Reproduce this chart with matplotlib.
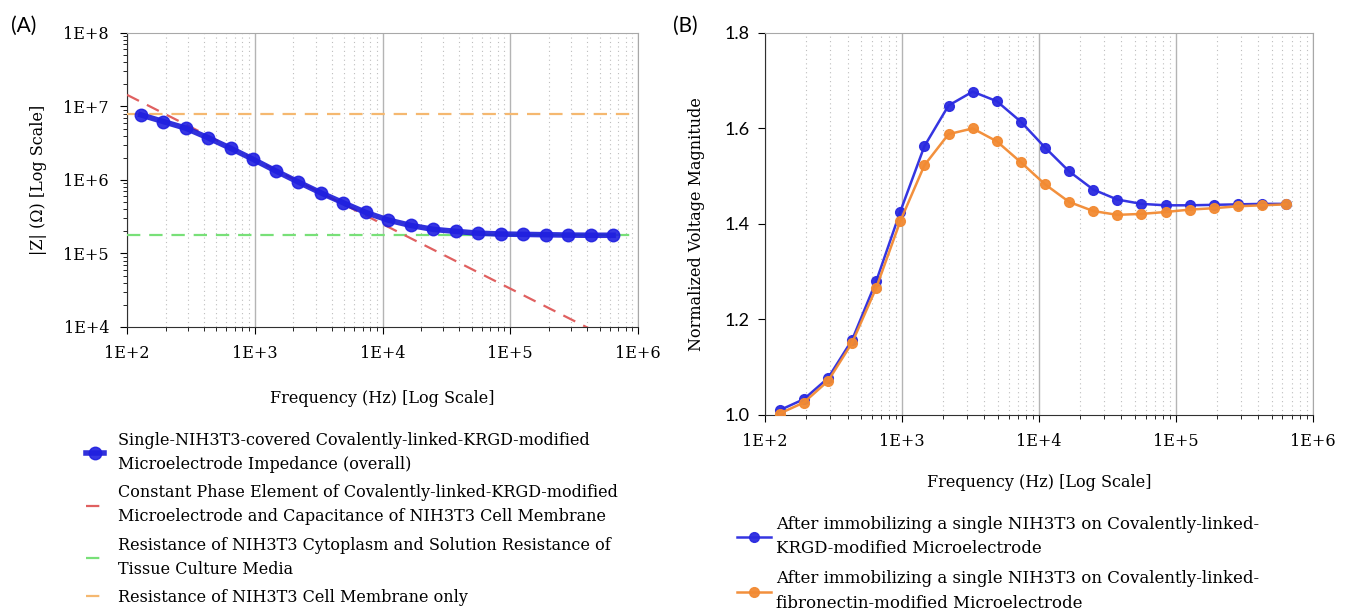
import matplotlib
matplotlib.use("Agg")
import matplotlib.pyplot as plt
from matplotlib.ticker import LogLocator, FixedLocator, NullFormatter
import numpy as np

plt.rcParams['font.family'] = ['DejaVu Serif']

# frequencies of the measured points (Hz)
freq = [128, 192, 288, 432, 648, 972, 1458, 2187, 3281, 4921, 7381, 11072,
        16608, 24912, 37368, 56052, 84078, 126117, 189176, 283764, 425646, 638469]

# (A) impedance magnitude, ohm
z_overall = [7.7e6, 6.24e6, 5.07e6, 3.74e6, 2.70e6, 1.91e6, 1.33e6, 9.4e5, 6.7e5,
             4.9e5, 3.62e5, 2.85e5, 2.41e5, 2.13e5, 2.0e5, 1.89e5, 1.84e5, 1.82e5,
             1.80e5, 1.78e5, 1.77e5, 1.77e5]
cpe_freq = [100, 1e6]
cpe_z = [1.44e7, 4.4e3]
r_cytoplasm = 1.76e5
r_membrane = 7.85e6

# (B) normalized voltage magnitude
v_krgd = [1.010, 1.033, 1.077, 1.157, 1.280, 1.426, 1.563, 1.648, 1.677, 1.657, 1.614,
          1.560, 1.510, 1.472, 1.451, 1.442, 1.439, 1.439, 1.440, 1.441, 1.442, 1.442]
v_fibro = [1.003, 1.026, 1.071, 1.151, 1.266, 1.406, 1.523, 1.588, 1.600, 1.573, 1.529,
           1.483, 1.446, 1.427, 1.419, 1.421, 1.425, 1.430, 1.433, 1.437, 1.439, 1.441]

x_ticks = [1e2, 1e3, 1e4, 1e5, 1e6]
x_ticklabels = ['1E+2', '1E+3', '1E+4', '1E+5', '1E+6']
ya_ticks = [1e4, 1e5, 1e6, 1e7, 1e8]
ya_ticklabels = ['1E+4', '1E+5', '1E+6', '1E+7', '1E+8']
yb_ticks = [1.0, 1.2, 1.4, 1.6, 1.8]
yb_ticklabels = ['1.0', '1.2', '1.4', '1.6', '1.8']

lab_overall = 'Single-NIH3T3-covered Covalently-linked-KRGD-modified\nMicroelectrode Impedance (overall)'
lab_cpe = 'Constant Phase Element of Covalently-linked-KRGD-modified\nMicroelectrode and Capacitance of NIH3T3 Cell Membrane'
lab_rcyto = 'Resistance of NIH3T3 Cytoplasm and Solution Resistance of\nTissue Culture Media'
lab_rmem = 'Resistance of NIH3T3 Cell Membrane only'
lab_krgd = 'After immobilizing a single NIH3T3 on Covalently-linked-\nKRGD-modified Microelectrode'
lab_fibro = 'After immobilizing a single NIH3T3 on Covalently-linked-\nfibronectin-modified Microelectrode'

fig = plt.figure(figsize=(13.56, 6.12), dpi=100)
axA = fig.add_axes([0.0937, 0.4657, 0.3768, 0.4804])
axB = fig.add_axes([0.5642, 0.3220, 0.4040, 0.6242])


def style_axes(ax, xlabelpad):
    ax.set_xscale('log')
    ax.set_xlim(1e2, 1e6)
    ax.xaxis.set_major_locator(FixedLocator(x_ticks))
    ax.set_xticklabels(x_ticklabels)
    ax.xaxis.set_minor_locator(LogLocator(base=10, subs=np.arange(2, 10)))
    ax.xaxis.set_minor_formatter(NullFormatter())
    ax.grid(True, which='major', axis='x', color='#b4b4b4', lw=1.0)
    ax.grid(True, which='minor', axis='x', color='#bdbdbd', lw=0.8, ls=(0, (1, 3)))
    for s in ['top', 'right']:
        ax.spines[s].set_color('#a8a8a8')
    for s in ['left', 'bottom']:
        ax.spines[s].set_color('#303030')
    ax.tick_params(axis='both', which='major', labelsize=11.5, length=5, pad=8)
    ax.tick_params(axis='both', which='minor', length=3)
    ax.set_xlabel('Frequency (Hz) [Log Scale]', fontsize=11.5, labelpad=xlabelpad)


# ---- panel A
axA.plot(freq, z_overall, color='#1a1ad8', lw=4, marker='o', ms=9,
         mfc='#2020e0', mec='#2020e0', alpha=0.9, label=lab_overall, zorder=5)
axA.plot(cpe_freq, cpe_z, color='#e06060', lw=1.6, ls=(0, (6, 4)), label=lab_cpe, zorder=4)
axA.axhline(r_cytoplasm, color='#78e078', lw=1.6, ls=(0, (6, 4)), label=lab_rcyto, zorder=3)
axA.axhline(r_membrane, color='#f5b870', lw=1.6, ls=(0, (6, 4)), label=lab_rmem, zorder=3)
axA.set_yscale('log')
style_axes(axA, 20)
axA.set_ylim(1e4, 1e8)
axA.yaxis.set_major_locator(FixedLocator(ya_ticks))
axA.set_yticklabels(ya_ticklabels)
axA.yaxis.set_minor_locator(LogLocator(base=10, subs=np.arange(2, 10)))
axA.yaxis.set_minor_formatter(NullFormatter())
axA.set_ylabel('|Z| (Ω) [Log Scale]', fontsize=11.5, labelpad=12)
legA = axA.legend(loc='upper left', bbox_to_anchor=(-0.092, -0.335), frameon=False,
                  fontsize=11.5, handlelength=1.1, handletextpad=0.9, labelspacing=0.7,
                  borderaxespad=0)
for t in legA.get_texts():
    t.set_linespacing(1.55)

# ---- panel B
axB.plot(freq, v_krgd, color='#2a2ae0', lw=1.8, marker='o', ms=7, alpha=0.95,
         label=lab_krgd, zorder=4)
axB.plot(freq, v_fibro, color='#f28a32', lw=1.8, marker='o', ms=7, alpha=0.95,
         label=lab_fibro, zorder=5)
style_axes(axB, 17)
axB.set_ylim(1.0, 1.8)
axB.yaxis.set_major_locator(FixedLocator(yb_ticks))
axB.set_yticklabels(yb_ticklabels, family='Lato', fontsize=13)
axB.tick_params(axis='y', pad=6)
axB.set_ylabel('Normalized Voltage Magnitude', fontsize=11.5, labelpad=14)
legB = axB.legend(loc='upper left', bbox_to_anchor=(-0.063, -0.247), frameon=False,
                  fontsize=12, handlelength=2.0, handletextpad=0.35, labelspacing=0.8,
                  borderaxespad=0)
for t in legB.get_texts():
    t.set_linespacing(1.55)

fig.text(0.008, 0.948, '(A)', fontsize=15, family='Lato')
fig.text(0.496, 0.948, '(B)', fontsize=15, family='Lato')

fig.savefig('out.png', dpi=100)
